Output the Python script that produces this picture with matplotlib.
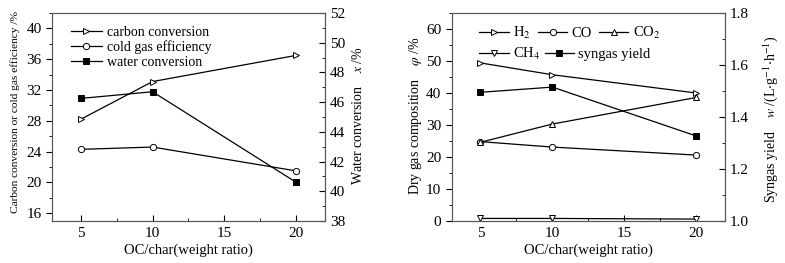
import numpy as np
import matplotlib
matplotlib.use('Agg')
import matplotlib.pyplot as plt
from matplotlib.ticker import MultipleLocator

plt.rcParams['font.family'] = ['Liberation Serif', 'DejaVu Serif']
plt.rcParams['mathtext.fontset'] = 'stix'
plt.rcParams['font.size'] = 11

# OC/char weight ratio
ratio = [5, 10, 20]

# left panel
carbon_conv = [28.2, 33.1, 36.5]
cold_gas_eff = [24.3, 24.6, 21.5]
water_conv = [46.25, 46.7, 40.6]

# right panel
h2 = [49.4, 45.7, 40.0]
co = [24.8, 23.1, 20.6]
co2 = [24.6, 30.3, 38.6]
ch4 = [0.8, 0.8, 0.6]
syngas_yield = [1.495, 1.515, 1.327]

xticks = [5, 10, 15, 20]

fig = plt.figure(figsize=(7.85, 2.63), dpi=100)
ax1 = fig.add_axes([0.0662, 0.1597, 0.3478, 0.7909])
ax2 = fig.add_axes([0.5754, 0.1597, 0.3482, 0.7909])

spine_col = '#555555'
mk = dict(markersize=4.5, markeredgewidth=0.7, color='black', linewidth=0.9)

def style(ax, axr):
    for a in (ax, axr):
        for s in a.spines.values():
            s.set_color(spine_col)
            s.set_linewidth(0.8)
    ax.spines['top'].set_color('#bbbbbb')
    ax.set_xlim(3, 22)
    ax.set_xticks(xticks)
    ax.xaxis.set_minor_locator(MultipleLocator(2.5))
    ax.tick_params(axis='x', which='both', direction='in', top=False, pad=4)
    ax.tick_params(axis='x', which='major', length=4)
    ax.tick_params(axis='x', which='minor', length=2.5)
    ax.tick_params(axis='y', which='major', direction='out', length=4)
    ax.tick_params(axis='y', which='minor', direction='out', length=2.5)
    axr.tick_params(axis='y', which='major', direction='in', length=4)
    axr.tick_params(axis='y', which='minor', direction='in', length=2.5)
    ax.set_xlabel('OC/char(weight ratio)', labelpad=3, fontsize=10.5)

# ---- left panel
ax1r = ax1.twinx()
l1, = ax1.plot(ratio, carbon_conv, marker='>', markerfacecolor='white', label='carbon conversion', **mk)
l2, = ax1.plot(ratio, cold_gas_eff, marker='o', markerfacecolor='white', label='cold gas efficiency', **mk)
l3, = ax1r.plot(ratio, water_conv, marker='s', markerfacecolor='black', label='water conversion', **mk)
ax1.set_ylim(15, 42)
ax1.set_yticks([16, 20, 24, 28, 32, 36, 40])
ax1.yaxis.set_minor_locator(MultipleLocator(2))
ax1r.set_ylim(38, 52)
ax1r.yaxis.set_major_locator(MultipleLocator(2))
ax1r.yaxis.set_minor_locator(MultipleLocator(1))
style(ax1, ax1r)
ax1.legend(handles=[l1, l2, l3], loc='upper left', frameon=False, handlelength=2.2,
           handletextpad=0.4, labelspacing=0.12, borderaxespad=0.0, fontsize=10,
           bbox_to_anchor=(0.05, 0.965))
fig.text(0.019, 0.575, 'Carbon conversion or cold gas efficiency /%', rotation=90,
         ha='center', va='center', fontsize=8.2)
fig.text(0.456, 0.56, r'Water conversion    $x$ /%', rotation=90,
         ha='center', va='center', fontsize=10)

# ---- right panel
ax2r = ax2.twinx()
h_h2, = ax2.plot(ratio, h2, marker='>', markerfacecolor='white', label='H$_2$', **mk)
h_co, = ax2.plot(ratio, co, marker='o', markerfacecolor='white', label='CO', **mk)
h_co2, = ax2.plot(ratio, co2, marker='^', markerfacecolor='white', label='CO$_2$', **mk)
h_ch4, = ax2.plot(ratio, ch4, marker='v', markerfacecolor='white', label='CH$_4$', **mk)
h_sy, = ax2r.plot(ratio, syngas_yield, marker='s', markerfacecolor='black', label='syngas yield', **mk)
ax2.set_ylim(0, 65)
ax2.yaxis.set_major_locator(MultipleLocator(10))
ax2.yaxis.set_minor_locator(MultipleLocator(5))
ax2r.set_ylim(1.0, 1.8)
ax2r.yaxis.set_major_locator(MultipleLocator(0.2))
ax2r.yaxis.set_minor_locator(MultipleLocator(0.1))
style(ax2, ax2r)
leg_a = ax2.legend(handles=[h_h2, h_co, h_co2], ncol=3, loc='upper left', frameon=False,
                   handlelength=2.0, handletextpad=0.3, columnspacing=0.5,
                   borderaxespad=0.0, fontsize=10.5, bbox_to_anchor=(0.08, 0.97))
ax2.add_artist(leg_a)
ax2.legend(handles=[h_ch4, h_sy], ncol=2, loc='upper left', frameon=False,
           handlelength=2.0, handletextpad=0.3, columnspacing=0.3,
           borderaxespad=0.0, fontsize=10.5, bbox_to_anchor=(0.08, 0.87))
fig.text(0.529, 0.56, r'Dry gas composition    $\varphi$ /%', rotation=90,
         ha='center', va='center', fontsize=10)
fig.text(0.981, 0.545, r'Syngas yield    $w$ /(L$\cdot$g$^{-1}$$\cdot$h$^{-1}$)', rotation=90,
         ha='center', va='center', fontsize=10)

fig.savefig('out.png', dpi=100)
